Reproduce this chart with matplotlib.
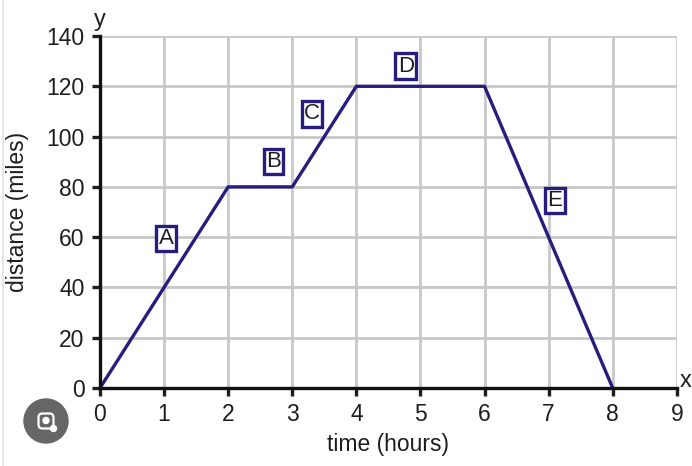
import matplotlib.pyplot as plt
from matplotlib.patches import Circle, FancyBboxPatch
from matplotlib.lines import Line2D

# journey data
time_h = [0, 2, 3, 4, 6, 8]
distance = [0, 80, 80, 120, 120, 0]

seg_labels = ['A', 'B', 'C', 'D', 'E']
label_x = [1.03, 2.71, 3.31, 4.77, 7.1]
label_y = [59.5, 90, 109, 128, 74.5]

x_ticks = list(range(0, 10))
y_ticks = list(range(0, 141, 20))

navy = '#271d7e'
ink = '#1e1e1e'

plt.rcParams['font.family'] = ['Liberation Sans', 'DejaVu Sans']

fig = plt.figure(figsize=(6.92, 4.66), dpi=100)
ax = fig.add_axes([0.1445, 0.1674, 0.8335, 0.7553])

ax.plot(time_h, distance, color=navy, lw=2.4, solid_capstyle='round', zorder=3)

for lab, lx, ly in zip(seg_labels, label_x, label_y):
    ax.text(lx, ly, lab, fontsize=16, ha='center', va='center', color=ink, zorder=4,
            bbox=dict(boxstyle='square,pad=0.1', fc='white', ec=navy, lw=2.4))

ax.set_xlim(0, 9)
ax.set_ylim(0, 140)
ax.set_xticks(x_ticks)
ax.set_yticks(y_ticks)
ax.grid(True, color='#c8c8c8', lw=2)
ax.set_axisbelow(True)

for s in ['top', 'right']:
    ax.spines[s].set_visible(False)
for s in ['left', 'bottom']:
    ax.spines[s].set_linewidth(2.4)
    ax.spines[s].set_color('#111111')
    ax.spines[s].set_zorder(5)

ax.tick_params(direction='out', length=6, width=2.4, labelsize=16.5, colors=ink, pad=5)
ax.set_xlabel('time (hours)', fontsize=16.5, color=ink, labelpad=5)
ax.set_ylabel('distance (miles)', fontsize=16.5, color=ink)
ax.yaxis.set_label_coords(-0.123, 0.5)

ax.text(0, 1.015, 'y', transform=ax.transAxes, fontsize=17, ha='center', va='bottom', color=ink)
fig.text(1.0, 1 - 381 / 466, 'x', fontsize=17, ha='right', va='center', color=ink)

# screenshot border and lens button
fig.add_artist(Line2D([3 / 692, 3 / 692], [0, 1], transform=fig.transFigure, color='#e6e6e6', lw=1.5))
cx, cy = 0.46, 4.66 - 4.21
fig.patches.append(Circle((cx, cy), 0.22, transform=fig.dpi_scale_trans, color='#666666', zorder=0))
fig.patches.append(FancyBboxPatch((cx - 0.075, cy - 0.075), 0.15, 0.15, boxstyle='round,pad=0,rounding_size=0.04',
                                  transform=fig.dpi_scale_trans, fill=False, ec='white', lw=1.6, zorder=1))
fig.patches.append(Circle((cx, cy + 0.005), 0.03, transform=fig.dpi_scale_trans, color='white', zorder=1))
fig.patches.append(Circle((cx + 0.075, cy - 0.075), 0.03, transform=fig.dpi_scale_trans, color='white', zorder=2))

fig.savefig('out.png', dpi=100)
